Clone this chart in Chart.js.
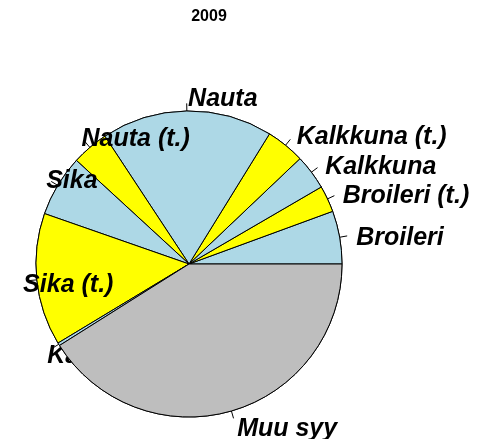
<!DOCTYPE html>
<html>
<head>
<meta charset="utf-8">
<title>2009</title>
<script src="https://cdn.jsdelivr.net/npm/chart.js@4.4.0/dist/chart.umd.min.js"></script>
<style>
  html, body { margin: 0; padding: 0; background: #fff; }
  canvas { display: block; }
</style>
</head>
<body>
<canvas id="pieChart" width="486" height="439"></canvas>
<script>
// --- Data (in drawing order: counter-clockwise from 3 o'clock) ---
const chartTitle = '2009';
const categories = ['Broileri', 'Broileri (t.)', 'Kalkkuna', 'Kalkkuna (t.)', 'Nauta', 'Nauta (t.)', 'Sika', 'Sika (t.)', 'Kana', 'Muu syy'];
const shares = [5.6, 2.8, 3.7, 4.1, 18.1, 3.9, 6.5, 14.0, 0.3, 41.1];

// --- Styles ---
const LIGHT = '#add8e6';
const YELLOW = '#ffff00';
const GREY = '#bebebe';
const sliceColors = [LIGHT, YELLOW, LIGHT, YELLOW, LIGHT, YELLOW, LIGHT, YELLOW, LIGHT, GREY];
const labelFont = 'italic bold 25px "Liberation Sans", Arial, sans-serif';

// Chart.js draws clockwise, so hand it the slices reversed
const pieData = shares.slice().reverse();
const pieColors = sliceColors.slice().reverse();

// Redraw slice by slice like R's pie(): slice, then its tick and label,
// so later slices cover earlier labels
const pieLabels = {
    id: 'pieLabels',
    afterDatasetsDraw(chart) {
        const ctx = chart.ctx;
        const arcs = chart.getDatasetMeta(0).data;
        const n = arcs.length;
        for (let i = 0; i < n; i++) {
            const arc = arcs[n - 1 - i];
            ctx.save();
            arc.draw(ctx);
            ctx.restore();
            const { x, y, startAngle, endAngle, outerRadius } =
                arc.getProps(['x', 'y', 'startAngle', 'endAngle', 'outerRadius'], true);
            const mid = (startAngle + endAngle) / 2;
            const c = Math.cos(mid), s = Math.sin(mid);

            ctx.save();
            ctx.strokeStyle = '#000';
            ctx.lineWidth = 1;
            ctx.beginPath();
            ctx.moveTo(x + c * outerRadius, y + s * outerRadius);
            ctx.lineTo(x + c * outerRadius * 1.05, y + s * outerRadius * 1.05);
            ctx.stroke();

            ctx.font = labelFont;
            ctx.fillStyle = '#000';
            ctx.textAlign = 'left';
            ctx.textBaseline = 'alphabetic';
            ctx.fillText(categories[i], x + c * outerRadius * 1.1 + 1.5, y + s * outerRadius * 1.1 + 10.5);
            ctx.restore();
        }

        // title
        ctx.save();
        ctx.font = 'bold 16px "Liberation Sans", Arial, sans-serif';
        ctx.fillStyle = '#000';
        ctx.textAlign = 'center';
        ctx.textBaseline = 'alphabetic';
        ctx.fillText(chartTitle, 209, 21);
        ctx.restore();
    }
};

new Chart(document.getElementById('pieChart').getContext('2d'), {
    type: 'pie',
    data: {
        labels: categories.slice().reverse(),
        datasets: [{
            data: pieData,
            backgroundColor: pieColors,
            borderColor: '#000',
            borderWidth: 1
        }]
    },
    options: {
        responsive: false,
        animation: false,
        rotation: 90,
        layout: {
            padding: { left: 35.5, right: 143.5, top: 110.5, bottom: 21.5 }
        },
        plugins: {
            legend: { display: false },
            tooltip: { enabled: false },
            title: { display: false }
        }
    },
    plugins: [pieLabels]
});
</script>
</body>
</html>
